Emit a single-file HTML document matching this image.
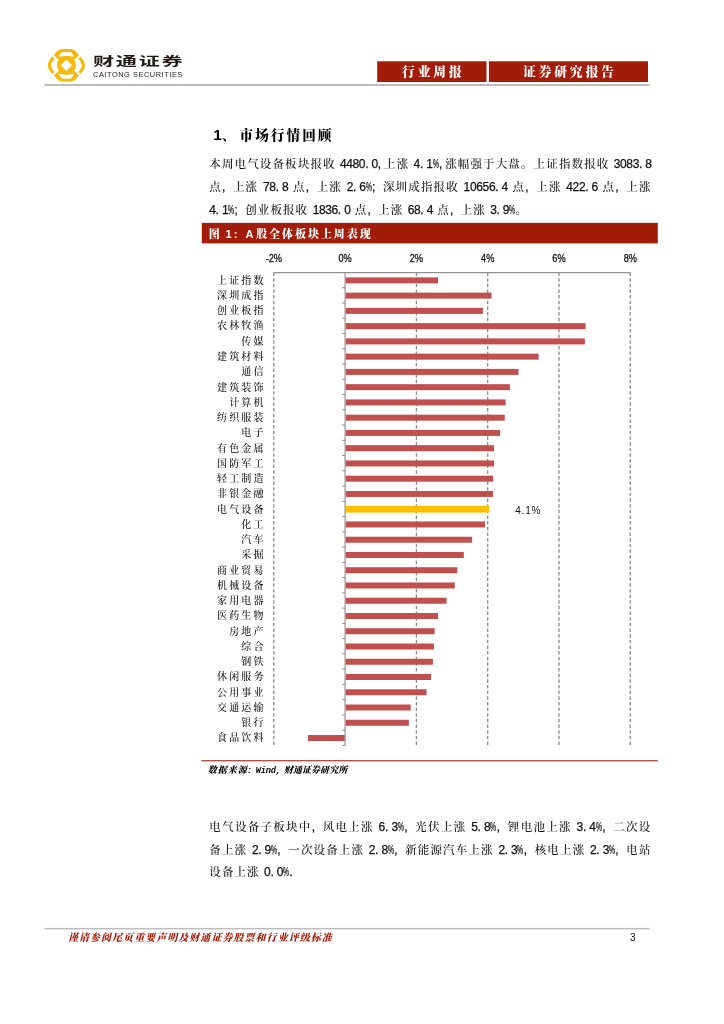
<!DOCTYPE html>
<html lang="zh-CN">
<head>
<meta charset="utf-8">
<title>行业周报</title>
<style>
html,body{margin:0;padding:0;background:#fff;}
body{width:724px;height:1024px;position:relative;overflow:hidden;font-family:"Liberation Sans","Noto Serif CJK SC",serif;color:#111;}
.abs{position:absolute;white-space:nowrap;}
.hei{font-family:"Liberation Sans","Noto Sans CJK SC",sans-serif;}
.box{position:absolute;top:61.5px;height:20.6px;color:#fff;font-weight:900;font-size:12.8px;line-height:21.4px;text-align:center;letter-spacing:2.8px;text-indent:2.8px;font-family:"Liberation Serif","Noto Serif CJK SC",serif;}
.line{position:absolute;left:209.3px;font-size:11.5px;line-height:16px;height:16px;white-space:nowrap;color:#111;font-weight:500;}
.w{display:inline-block;}
.n{font-family:"Liberation Sans",sans-serif;font-size:12px;font-weight:400;letter-spacing:var(--d);-webkit-text-stroke:0.25px #111;}
.p{display:inline-block;width:var(--h);letter-spacing:0;}
.pc{display:inline-block;width:var(--h);letter-spacing:0;transform:scaleX(0.56);transform-origin:0 50%;}
svg text.ax{font-family:"Liberation Sans",sans-serif;font-size:11.5px;fill:#111;stroke:#111;stroke-width:0.3px;}
svg text.cat{font-family:"Liberation Sans","Noto Serif CJK SC",serif;font-size:10px;letter-spacing:2.1px;font-weight:500;fill:#111;}
svg text.dl{font-family:"Liberation Sans",sans-serif;font-size:10px;fill:#111;letter-spacing:0.75px;}
</style>
</head>
<body>
<svg class="abs" style="left:0;top:0" width="724" height="1024" viewBox="0 0 724 1024">
 <rect x="44.5" y="84.3" width="604.8" height="1.4" fill="#a3a3a3"/>
 <rect x="377.2" y="61.3" width="109.3" height="20.7" fill="#A31C08"/>
 <rect x="488.9" y="61.3" width="159.1" height="20.7" fill="#A31C08"/>
 <rect x="201.8" y="222.85" width="456" height="20.55" fill="#A31C08"/>
 <rect x="201.3" y="760.05" width="456.5" height="1.3" fill="#B64635"/>
 <rect x="44.5" y="927.9" width="604.8" height="1.5" fill="#bcbcbc"/>
</svg>
<!-- logo -->
<svg class="abs" style="left:44px;top:44px" width="46" height="42" viewBox="-23 -21 46 42">
 <g transform="translate(-0.6,0.3)" fill="#F7B908" stroke="none">
  <circle cx="0" cy="0" r="9.5"/>
  <path d="M-12.5,-10 Q-8.4,-16.3 -4.4,-16.3 L4.4,-16.3 Q8.4,-16.3 12.5,-10 L7.8,-5.4 L7.7,-8.8 Q5.4,-13.4 3.4,-13.4 L-3.4,-13.4 Q-5.4,-13.4 -7.7,-8.8 L-7.8,-5.4 Z"/>
  <path d="M-7.7,-8.8 Q0,-9.4 7.7,-8.8 L7.8,-5.4 L-7.8,-5.4 Z"/>
  <g transform="scale(1,-1)">
   <path d="M-12.5,-10 Q-8.4,-16.3 -4.4,-16.3 L4.4,-16.3 Q8.4,-16.3 12.5,-10 L7.8,-5.4 L7.7,-8.8 Q5.4,-13.4 3.4,-13.4 L-3.4,-13.4 Q-5.4,-13.4 -7.7,-8.8 L-7.8,-5.4 Z"/>
   <path d="M-7.7,-8.8 Q0,-9.4 7.7,-8.8 L7.8,-5.4 L-7.8,-5.4 Z"/>
  </g>
  <path d="M-12.9,-7.7 Q-17,-3.5 -17,0 Q-17,3.5 -12.9,7.7" fill="none" stroke="#F7B908" stroke-width="3.1"/>
  <path d="M12.9,-7.7 Q17,-3.5 17,0 Q17,3.5 12.9,7.7" fill="none" stroke="#F7B908" stroke-width="3.1"/>
  <polygon points="0,-5.6 5.6,0 0,5.6 -5.6,0" fill="#fff"/>
 </g>
</svg>
<div class="abs hei" id="brand" style="left:92.7px;top:51.4px;font-size:12.3px;line-height:22px;font-weight:700;letter-spacing:1.0px;color:#231815;transform-origin:0 50%;transform:scaleX(1.72);">财通证券</div>
<div class="abs" id="brand2" style="left:93px;top:70.2px;font-size:7.4px;line-height:10px;color:#231815;letter-spacing:0.55px;font-family:'Liberation Sans',sans-serif;">CAITONG SECURITIES</div>
<div class="box" style="left:377.2px;width:109.4px;">行业周报</div>
<div class="box" style="left:488.9px;width:159.2px;">证券研究报告</div>

<!-- heading -->
<div class="abs" id="h1" style="left:213.3px;top:126.3px;font-size:13.5px;line-height:18px;font-weight:900;color:#000;font-family:'Liberation Sans','Noto Serif CJK SC',serif;"><span style="display:inline-block;width:8.3px;font-weight:700;font-size:15.5px;line-height:18px;position:relative;top:-0.3px;">1</span><span style="display:inline-block;width:17.6px;font-weight:700;margin-left:0.3px">、</span><span style="letter-spacing:2.2px;">市场行情回顾</span></div>

<!-- paragraph 1 -->
<div class="line" id="L1" style="top:155.5px;letter-spacing:1.137px;word-spacing:-0.132px;--h:6.318px;--d:-0.356px"><span class="w">本周电气设备板块报收 <span class="n">4480<span class="p">.</span>0<span class="p">,</span></span>上涨 <span class="n">4<span class="p">.</span>1<span class="pc">%</span><span class="p">,</span></span>涨幅强于大盘。上证指数报收 <span class="n">3083<span class="p">.</span>8</span></span></div>
<div class="line" id="L2" style="top:178.5px;letter-spacing:1.155px;word-spacing:0.350px;--h:6.327px;--d:-0.347px"><span class="w">点<span class="n"><span class="p">,</span></span> 上涨 <span class="n">78<span class="p">.</span>8</span> 点<span class="n"><span class="p">,</span></span> 上涨 <span class="n">2<span class="p">.</span>6<span class="pc">%</span><span class="p">;</span></span> 深圳成指报收 <span class="n">10656<span class="p">.</span>4</span> 点<span class="n"><span class="p">,</span></span> 上涨 <span class="n">422<span class="p">.</span>6</span> 点<span class="n"><span class="p">,</span></span> 上涨</span></div>
<div class="line" id="L3" style="top:201.7px;letter-spacing:1.100px;word-spacing:0.105px;--h:6.300px;--d:-0.374px"><span class="w"><span class="n">4<span class="p">.</span>1<span class="pc">%</span><span class="p">;</span></span> 创业板报收 <span class="n">1836<span class="p">.</span>0</span> 点<span class="n"><span class="p">,</span></span> 上涨 <span class="n">68<span class="p">.</span>4</span> 点<span class="n"><span class="p">,</span></span> 上涨 <span class="n">3<span class="p">.</span>9<span class="pc">%</span></span>。</span></div>

<!-- figure title -->
<div class="abs" id="ftitle" style="left:208.7px;top:225.9px;font-size:11px;line-height:17px;font-weight:900;color:#fff;font-family:'Liberation Sans','Noto Serif CJK SC',serif;"><span style="display:inline-block;width:16.7px;">图</span><span style="display:inline-block;width:20.1px;font-weight:700;letter-spacing:2.3px;">1:</span><span style="display:inline-block;width:10.7px;font-weight:700;">A</span><span style="letter-spacing:1.95px;">股全体板块上周表现</span></div>

<svg class="chart" width="724" height="1024" viewBox="0 0 724 1024" style="position:absolute;left:0;top:0">
<line x1="273.8" y1="272.5" x2="273.8" y2="745.4" stroke="#8c8c8c" stroke-width="1.3" stroke-dasharray="3.5 2.15"/>
<line x1="416.4" y1="272.5" x2="416.4" y2="745.4" stroke="#8c8c8c" stroke-width="1.3" stroke-dasharray="3.5 2.15"/>
<line x1="487.7" y1="272.5" x2="487.7" y2="745.4" stroke="#8c8c8c" stroke-width="1.3" stroke-dasharray="3.5 2.15"/>
<line x1="559.0" y1="272.5" x2="559.0" y2="745.4" stroke="#8c8c8c" stroke-width="1.3" stroke-dasharray="3.5 2.15"/>
<line x1="630.3" y1="272.5" x2="630.3" y2="745.4" stroke="#8c8c8c" stroke-width="1.3" stroke-dasharray="3.5 2.15"/>
<line x1="273.8" y1="272.5" x2="630.3" y2="272.5" stroke="#929292" stroke-width="1.25"/>
<rect x="345.5" y="277.38" width="92.5" height="6.0" fill="#C0504D"/>
<rect x="345.5" y="292.63" width="146.0" height="6.0" fill="#C0504D"/>
<rect x="345.5" y="307.89" width="137.4" height="6.0" fill="#C0504D"/>
<rect x="345.5" y="323.14" width="240.1" height="6.0" fill="#C0504D"/>
<rect x="345.5" y="338.40" width="239.4" height="6.0" fill="#C0504D"/>
<rect x="345.5" y="353.65" width="193.1" height="6.0" fill="#C0504D"/>
<rect x="345.5" y="368.91" width="173.0" height="6.0" fill="#C0504D"/>
<rect x="345.5" y="384.16" width="164.4" height="6.0" fill="#C0504D"/>
<rect x="345.5" y="399.42" width="160.1" height="6.0" fill="#C0504D"/>
<rect x="345.5" y="414.67" width="159.3" height="6.0" fill="#C0504D"/>
<rect x="345.5" y="429.93" width="154.7" height="6.0" fill="#C0504D"/>
<rect x="345.5" y="445.18" width="148.6" height="6.0" fill="#C0504D"/>
<rect x="345.5" y="460.44" width="148.6" height="6.0" fill="#C0504D"/>
<rect x="345.5" y="475.69" width="147.5" height="6.0" fill="#C0504D"/>
<rect x="345.5" y="490.95" width="147.5" height="6.0" fill="#C0504D"/>
<rect x="345.5" y="505.80" width="143.8" height="6.8" fill="#FFC000"/>
<rect x="345.5" y="521.46" width="139.5" height="6.0" fill="#C0504D"/>
<rect x="345.5" y="536.71" width="126.6" height="6.0" fill="#C0504D"/>
<rect x="345.5" y="551.97" width="118.3" height="6.0" fill="#C0504D"/>
<rect x="345.5" y="567.22" width="111.8" height="6.0" fill="#C0504D"/>
<rect x="345.5" y="582.48" width="109.3" height="6.0" fill="#C0504D"/>
<rect x="345.5" y="597.73" width="101.1" height="6.0" fill="#C0504D"/>
<rect x="345.5" y="612.99" width="92.5" height="6.0" fill="#C0504D"/>
<rect x="345.5" y="628.24" width="89.2" height="6.0" fill="#C0504D"/>
<rect x="345.5" y="643.50" width="88.5" height="6.0" fill="#C0504D"/>
<rect x="345.5" y="658.75" width="87.4" height="6.0" fill="#C0504D"/>
<rect x="345.5" y="674.01" width="85.6" height="6.0" fill="#C0504D"/>
<rect x="345.5" y="689.26" width="81.0" height="6.0" fill="#C0504D"/>
<rect x="345.5" y="704.52" width="65.2" height="6.0" fill="#C0504D"/>
<rect x="345.5" y="719.77" width="63.4" height="6.0" fill="#C0504D"/>
<rect x="308.0" y="735.03" width="37.1" height="6.0" fill="#C0504D"/>
<line x1="345.1" y1="272.5" x2="345.1" y2="745.4" stroke="#9c9c9c" stroke-width="1.3"/>
<line x1="342.1" y1="272.50" x2="345.1" y2="272.50" stroke="#8c8c8c" stroke-width="1"/>
<line x1="342.1" y1="287.75" x2="345.1" y2="287.75" stroke="#8c8c8c" stroke-width="1"/>
<line x1="342.1" y1="303.01" x2="345.1" y2="303.01" stroke="#8c8c8c" stroke-width="1"/>
<line x1="342.1" y1="318.26" x2="345.1" y2="318.26" stroke="#8c8c8c" stroke-width="1"/>
<line x1="342.1" y1="333.52" x2="345.1" y2="333.52" stroke="#8c8c8c" stroke-width="1"/>
<line x1="342.1" y1="348.77" x2="345.1" y2="348.77" stroke="#8c8c8c" stroke-width="1"/>
<line x1="342.1" y1="364.03" x2="345.1" y2="364.03" stroke="#8c8c8c" stroke-width="1"/>
<line x1="342.1" y1="379.29" x2="345.1" y2="379.29" stroke="#8c8c8c" stroke-width="1"/>
<line x1="342.1" y1="394.54" x2="345.1" y2="394.54" stroke="#8c8c8c" stroke-width="1"/>
<line x1="342.1" y1="409.80" x2="345.1" y2="409.80" stroke="#8c8c8c" stroke-width="1"/>
<line x1="342.1" y1="425.05" x2="345.1" y2="425.05" stroke="#8c8c8c" stroke-width="1"/>
<line x1="342.1" y1="440.31" x2="345.1" y2="440.31" stroke="#8c8c8c" stroke-width="1"/>
<line x1="342.1" y1="455.56" x2="345.1" y2="455.56" stroke="#8c8c8c" stroke-width="1"/>
<line x1="342.1" y1="470.81" x2="345.1" y2="470.81" stroke="#8c8c8c" stroke-width="1"/>
<line x1="342.1" y1="486.07" x2="345.1" y2="486.07" stroke="#8c8c8c" stroke-width="1"/>
<line x1="342.1" y1="501.33" x2="345.1" y2="501.33" stroke="#8c8c8c" stroke-width="1"/>
<line x1="342.1" y1="516.58" x2="345.1" y2="516.58" stroke="#8c8c8c" stroke-width="1"/>
<line x1="342.1" y1="531.84" x2="345.1" y2="531.84" stroke="#8c8c8c" stroke-width="1"/>
<line x1="342.1" y1="547.09" x2="345.1" y2="547.09" stroke="#8c8c8c" stroke-width="1"/>
<line x1="342.1" y1="562.35" x2="345.1" y2="562.35" stroke="#8c8c8c" stroke-width="1"/>
<line x1="342.1" y1="577.60" x2="345.1" y2="577.60" stroke="#8c8c8c" stroke-width="1"/>
<line x1="342.1" y1="592.86" x2="345.1" y2="592.86" stroke="#8c8c8c" stroke-width="1"/>
<line x1="342.1" y1="608.11" x2="345.1" y2="608.11" stroke="#8c8c8c" stroke-width="1"/>
<line x1="342.1" y1="623.37" x2="345.1" y2="623.37" stroke="#8c8c8c" stroke-width="1"/>
<line x1="342.1" y1="638.62" x2="345.1" y2="638.62" stroke="#8c8c8c" stroke-width="1"/>
<line x1="342.1" y1="653.88" x2="345.1" y2="653.88" stroke="#8c8c8c" stroke-width="1"/>
<line x1="342.1" y1="669.13" x2="345.1" y2="669.13" stroke="#8c8c8c" stroke-width="1"/>
<line x1="342.1" y1="684.38" x2="345.1" y2="684.38" stroke="#8c8c8c" stroke-width="1"/>
<line x1="342.1" y1="699.64" x2="345.1" y2="699.64" stroke="#8c8c8c" stroke-width="1"/>
<line x1="342.1" y1="714.89" x2="345.1" y2="714.89" stroke="#8c8c8c" stroke-width="1"/>
<line x1="342.1" y1="730.15" x2="345.1" y2="730.15" stroke="#8c8c8c" stroke-width="1"/>
<line x1="342.1" y1="745.40" x2="345.1" y2="745.40" stroke="#8c8c8c" stroke-width="1"/>
<text transform="translate(273.8 261.9) scale(0.8 1)" text-anchor="middle" class="ax">-2%</text>
<text transform="translate(345.1 261.9) scale(0.8 1)" text-anchor="middle" class="ax">0%</text>
<text transform="translate(416.4 261.9) scale(0.8 1)" text-anchor="middle" class="ax">2%</text>
<text transform="translate(487.7 261.9) scale(0.8 1)" text-anchor="middle" class="ax">4%</text>
<text transform="translate(559.0 261.9) scale(0.8 1)" text-anchor="middle" class="ax">6%</text>
<text transform="translate(630.3 261.9) scale(0.8 1)" text-anchor="middle" class="ax">8%</text>
<text x="265.5" y="283.73" text-anchor="end" class="cat">上证指数</text>
<text x="265.5" y="298.98" text-anchor="end" class="cat">深圳成指</text>
<text x="265.5" y="314.24" text-anchor="end" class="cat">创业板指</text>
<text x="265.5" y="329.49" text-anchor="end" class="cat">农林牧渔</text>
<text x="265.5" y="344.75" text-anchor="end" class="cat">传媒</text>
<text x="265.5" y="360.00" text-anchor="end" class="cat">建筑材料</text>
<text x="265.5" y="375.26" text-anchor="end" class="cat">通信</text>
<text x="265.5" y="390.51" text-anchor="end" class="cat">建筑装饰</text>
<text x="265.5" y="405.77" text-anchor="end" class="cat">计算机</text>
<text x="265.5" y="421.02" text-anchor="end" class="cat">纺织服装</text>
<text x="265.5" y="436.28" text-anchor="end" class="cat">电子</text>
<text x="265.5" y="451.53" text-anchor="end" class="cat">有色金属</text>
<text x="265.5" y="466.79" text-anchor="end" class="cat">国防军工</text>
<text x="265.5" y="482.04" text-anchor="end" class="cat">轻工制造</text>
<text x="265.5" y="497.30" text-anchor="end" class="cat">非银金融</text>
<text x="265.5" y="512.55" text-anchor="end" class="cat">电气设备</text>
<text x="265.5" y="527.81" text-anchor="end" class="cat">化工</text>
<text x="265.5" y="543.06" text-anchor="end" class="cat">汽车</text>
<text x="265.5" y="558.32" text-anchor="end" class="cat">采掘</text>
<text x="265.5" y="573.57" text-anchor="end" class="cat">商业贸易</text>
<text x="265.5" y="588.83" text-anchor="end" class="cat">机械设备</text>
<text x="265.5" y="604.08" text-anchor="end" class="cat">家用电器</text>
<text x="265.5" y="619.34" text-anchor="end" class="cat">医药生物</text>
<text x="265.5" y="634.59" text-anchor="end" class="cat">房地产</text>
<text x="265.5" y="649.85" text-anchor="end" class="cat">综合</text>
<text x="265.5" y="665.10" text-anchor="end" class="cat">钢铁</text>
<text x="265.5" y="680.36" text-anchor="end" class="cat">休闲服务</text>
<text x="265.5" y="695.61" text-anchor="end" class="cat">公用事业</text>
<text x="265.5" y="710.87" text-anchor="end" class="cat">交通运输</text>
<text x="265.5" y="726.12" text-anchor="end" class="cat">银行</text>
<text x="265.5" y="741.38" text-anchor="end" class="cat">食品饮料</text>
<text x="515.3" y="514.1" class="dl">4.1%</text>
</svg>

<div class="abs" id="src" style="left:207.8px;top:764px;font-size:9px;line-height:13px;font-weight:900;font-style:italic;color:#000;font-family:'Liberation Sans','Noto Serif CJK SC',serif;"><span style="display:inline-block;width:40.3px;letter-spacing:1px;">数据来源</span><span style="display:inline-block;width:7.6px;font-weight:700;">:</span><span style="display:inline-block;width:28.2px;font-family:'Liberation Mono',monospace;font-weight:700;font-size:8.6px;letter-spacing:-0.15px;">Wind,</span><span style="letter-spacing:0.05px;">财通证券研究所</span></div>

<!-- paragraph 2 -->
<div class="line" id="L4" style="top:819.2px;letter-spacing:1.292px;word-spacing:0.213px;--h:6.396px;--d:-0.278px"><span class="w">电气设备子板块中<span class="n"><span class="p">,</span></span> 风电上涨 <span class="n">6<span class="p">.</span>3<span class="pc">%</span><span class="p">,</span></span> 光伏上涨 <span class="n">5<span class="p">.</span>8<span class="pc">%</span><span class="p">,</span></span> 锂电池上涨 <span class="n">3<span class="p">.</span>4<span class="pc">%</span><span class="p">,</span></span> 二次设</span></div>
<div class="line" id="L5" style="top:842.2px;letter-spacing:1.150px;word-spacing:0.355px;--h:6.325px;--d:-0.349px"><span class="w">备上涨 <span class="n">2<span class="p">.</span>9<span class="pc">%</span><span class="p">,</span></span> 一次设备上涨 <span class="n">2<span class="p">.</span>8<span class="pc">%</span><span class="p">,</span></span> 新能源汽车上涨 <span class="n">2<span class="p">.</span>3<span class="pc">%</span><span class="p">,</span></span> 核电上涨 <span class="n">2<span class="p">.</span>3<span class="pc">%</span><span class="p">,</span></span> 电站</span></div>
<div class="line" id="L6" style="top:864.1px;letter-spacing:1.100px;word-spacing:0.105px;--h:6.300px;--d:-0.374px"><span class="w">设备上涨 <span class="n">0<span class="p">.</span>0<span class="pc">%</span><span class="p">.</span></span></span></div>

<!-- footer -->
<div class="abs" id="foot" style="left:67.9px;top:931.4px;font-size:10px;line-height:14px;font-weight:900;font-style:italic;color:#A31C08;letter-spacing:1.04px;font-family:'Liberation Sans','Noto Serif CJK SC',serif;">谨请参阅尾页重要声明及财通证券股票和行业评级标准</div>
<div class="abs" id="pg" style="left:630px;top:931px;font-size:10px;line-height:13px;color:#111;font-family:'Liberation Sans',sans-serif;">3</div>
</body>
</html>
